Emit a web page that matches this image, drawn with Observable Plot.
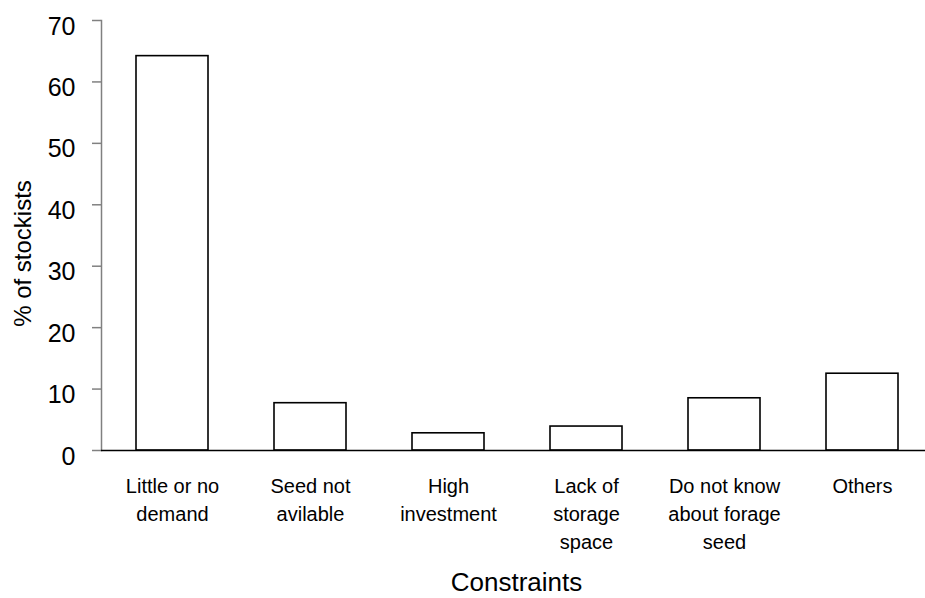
<!DOCTYPE html>
<html><head><meta charset="utf-8">
<script src="https://cdn.jsdelivr.net/npm/d3@7"></script>
<script src="https://cdn.jsdelivr.net/npm/@observablehq/plot@0.6"></script>
<style>body{margin:0;background:#fff} svg{font-family:"Liberation Sans",Arial,sans-serif}</style>
</head><body><div id="chart"></div>
<script>
const categories = ["Little or no demand", "Seed not avilable", "High investment", "Lack of storage space", "Do not know about forage seed", "Others"];
const tickLabels = ["Little or no\ndemand", "Seed not\navilable", "High\ninvestment", "Lack of\nstorage\nspace", "Do not know\nabout forage\nseed", "Others"];
const values = [64.2, 7.7, 2.8, 3.9, 8.5, 12.5];
const yTicks = [0, 10, 20, 30, 40, 50, 60, 70];
const xTitle = "Constraints";
const yTitle = "% of stockists";

const data = categories.map((c, i) => ({category: c, value: values[i]}));

const chart = Plot.plot({
  width: 925, height: 598,
  marginTop: 20, marginBottom: 148, marginLeft: 101, marginRight: 0,
  style: {fontFamily: '"Liberation Sans", Arial, sans-serif', background: "white", color: "black", overflow: "visible"},
  x: {domain: categories, range: [101, 933], paddingInner: 0.48, paddingOuter: 0.24},
  y: {domain: [0, 70], range: [450, 20]},
  marks: [
    Plot.barY(data, {x: "category", y: "value", fill: "white", stroke: "black", strokeWidth: 1.6}),
    Plot.frame({anchor: "left", stroke: "#808080", strokeWidth: 1.5}),
    Plot.axisY({ticks: yTicks, tickSize: 9, tickFormat: () => "", stroke: "#808080", strokeWidth: 1.5, label: null}),
    Plot.axisY({ticks: yTicks, tickSize: 0, tickPadding: 26, fontSize: 25, dy: 6, label: null}),
    Plot.ruleY([0], {stroke: "black", strokeWidth: 1.3}),
    Plot.axisX({tickSize: 0, tickPadding: 23, fontSize: 20, lineHeight: 1.4, label: null,
      tickFormat: d => tickLabels[categories.indexOf(d)], style: {letterSpacing: "0.5px"}}),
    Plot.text([yTitle], {frameAnchor: "left", textAnchor: "middle", rotate: -90, dx: -78, dy: 18, fontSize: 24}),
    Plot.text([xTitle], {frameAnchor: "bottom", dx: 3, dy: 140, fontSize: 26, letterSpacing: "0.5px"})
  ]
});
document.getElementById("chart").appendChild(chart);
</script>
</body></html>
